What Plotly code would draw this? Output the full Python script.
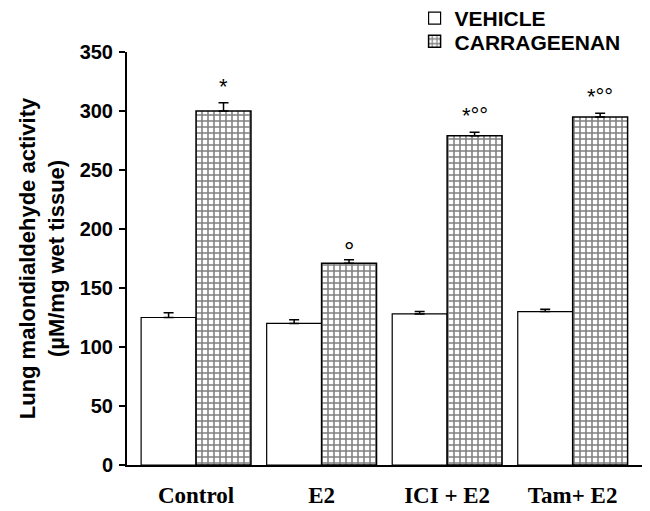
import plotly.graph_objects as go

categories = ["Control", "E2", "ICI + E2", "Tam+ E2"]
vehicle = [125, 120, 128, 130]
vehicle_err = [4, 3, 2, 2]
carrageenan = [300, 171, 279, 295]
carrageenan_err = [7, 3, 3, 3]
sig_labels = ["*", "°", "*°°", "*°°"]

fig = go.Figure()
fig.add_trace(go.Bar(
    name="VEHICLE", x=categories, y=vehicle, legend="legend",
    marker=dict(color="white", line=dict(color="black", width=1.2)),
    error_y=dict(type="data", symmetric=False, array=vehicle_err,
                 arrayminus=[0]*4, color="black", thickness=1.5, width=5),
))
fig.add_trace(go.Bar(
    name="CARRAGEENAN", x=categories, y=carrageenan, legend="legend2",
    marker=dict(color="white", line=dict(color="black", width=1.5),
                pattern=dict(shape="+", fgcolor="black", bgcolor="white",
                             size=6, solidity=0.45, fillmode="overlay")),
    error_y=dict(type="data", symmetric=False, array=carrageenan_err,
                 arrayminus=[0]*4, color="black", thickness=1.5, width=5),
))

for i, lab in enumerate(sig_labels):
    only_circle = not lab.startswith("*")
    fig.add_annotation(x=i + 0.219, y=carrageenan[i] + carrageenan_err[i],
                       text=lab, showarrow=False, yanchor="bottom",
                       yshift=-8 if only_circle else 2,
                       font=dict(family="Liberation Sans", size=26 if only_circle else 22,
                                 color="black"))

legend_font = dict(family="Liberation Sans", size=21, color="black", weight="bold")

fig.update_layout(
    width=642, height=503,
    paper_bgcolor="white", plot_bgcolor="white",
    margin=dict(l=119, r=2, t=44, b=46, autoexpand=False),
    barmode="group", bargap=0.125, bargroupgap=0,
    font=dict(family="Liberation Sans", color="black"),
    showlegend=True,
    legend=dict(x=0.552, y=1.081, xanchor="left", yanchor="middle",
                font=legend_font, bgcolor="rgba(0,0,0,0)", itemwidth=30),
    legend2=dict(x=0.552, y=1.025, xanchor="left", yanchor="middle",
                 font=legend_font, bgcolor="rgba(0,0,0,0)", itemwidth=30),
    xaxis=dict(range=[-0.55, 3.6], showline=True, linecolor="black", linewidth=2,
               ticks="", showgrid=False, automargin=False, ticklabelstandoff=8,
               tickfont=dict(family="Liberation Serif", size=23, color="black", weight="bold")),
    yaxis=dict(range=[0, 350], tickvals=[0, 50, 100, 150, 200, 250, 300, 350],
               showline=True, linecolor="black", linewidth=2, ticks="outside",
               ticklen=6, tickwidth=1.5, tickcolor="black", showgrid=False, zeroline=False,
               automargin=False, ticklabelstandoff=2,
               tickfont=dict(family="Liberation Sans", size=20, color="black", weight="bold"),
               title=dict(text="Lung malondialdehyde activity<br>(µM/mg wet tissue)",
                          font=dict(family="Liberation Sans", size=22, color="black", weight="bold"),
                          standoff=9)),
)

fig.write_html("out.html")
